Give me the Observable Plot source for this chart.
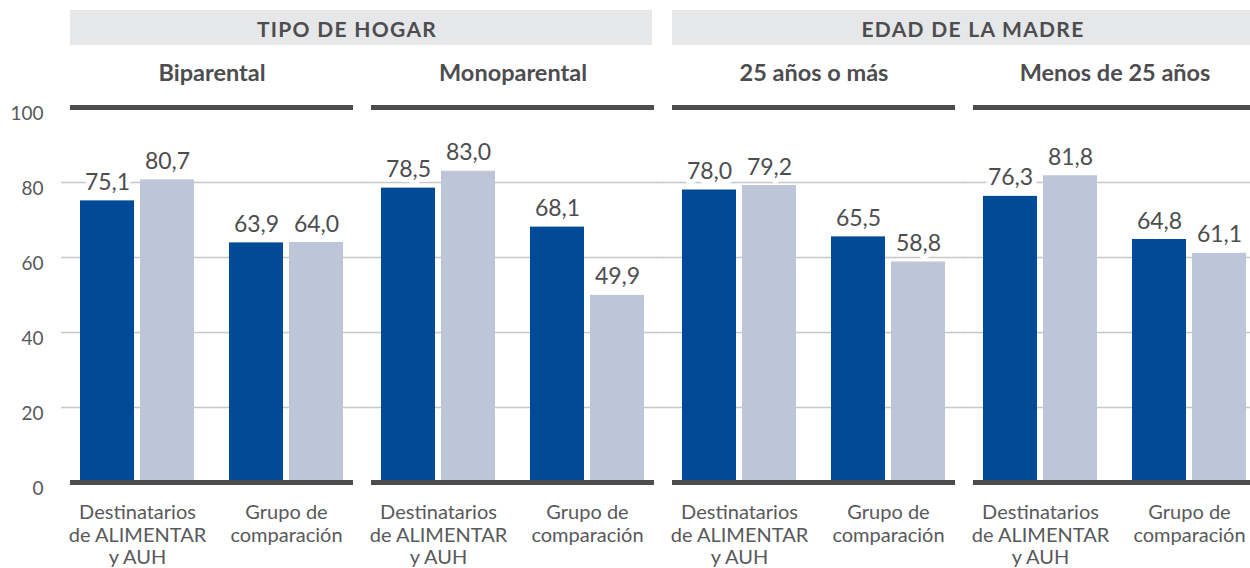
<!DOCTYPE html>
<html>
<head>
<meta charset="utf-8">
<script src="https://cdn.jsdelivr.net/npm/d3@7"></script>
<script src="https://cdn.jsdelivr.net/npm/@observablehq/plot@0.6"></script>
<style>
  html, body { margin: 0; padding: 0; background: #fff; overflow: hidden; }
  body { width: 1250px; height: 568px; font-family: Lato, "Noto Sans", sans-serif; }
  .headers { position: relative; height: 45px; }
  .hbox { position: absolute; top: 10px; height: 35px; background: #e6e7e8; color: #4d4d4f;
          font-weight: 700; font-size: 21px; letter-spacing: 1.3px; display: flex;
          align-items: center; justify-content: center; box-sizing: border-box; }
  #chart svg { display: block; overflow: visible; }
</style>
</head>
<body>
<div class="headers" id="headers"></div>
<div id="chart"></div>
<script>
// ---- data ----
const sections = ["TIPO DE HOGAR", "EDAD DE LA MADRE"];
const panels = ["Biparental", "Monoparental", "25 años o más", "Menos de 25 años"];
const groups = ["Destinatarios\nde ALIMENTAR\ny AUH", "Grupo de\ncomparación"];
const series = ["Serie 1", "Serie 2"];
const serie1 = [75.1, 63.9, 78.5, 68.1, 78.0, 65.5, 76.3, 64.8];
const serie2 = [80.7, 64.0, 83.0, 49.9, 79.2, 58.8, 81.8, 61.1];
const yTicks = [0, 20, 40, 60, 80, 100];
const gridValues = [20, 40, 60, 80];
const frameValues = [0, 100];

const rows = [];
panels.forEach((p, i) => groups.forEach((g, j) => {
  rows.push({panel: p, group: g, serie: series[0], value: serie1[i * 2 + j]});
  rows.push({panel: p, group: g, serie: series[1], value: serie2[i * 2 + j]});
}));
const groupRows = panels.flatMap(p => groups.map(g => ({panel: p, group: g})));

// ---- section headers (above the svg) ----
const hdr = document.getElementById("headers");
[{left: 70, w: 582, pad: "2px 28px 0 0"}, {left: 672, w: 590, pad: "2px 0 0 12px"}].forEach((b, i) => {
  const d = document.createElement("div");
  d.className = "hbox";
  d.style.left = b.left + "px";
  d.style.width = b.w + "px";
  d.style.padding = b.pad;
  d.textContent = sections[i];
  hdr.appendChild(d);
});

const dark = "#004a98", light = "#bdc6d8", ink = "#4d4d4f";
const fmt = v => v.toFixed(1).replace(".", ",");
const s1 = rows.filter(d => d.serie === series[0]);
const s2 = rows.filter(d => d.serie === series[1]);

const chart = Plot.plot({
  width: 1250,
  height: 523,
  marginLeft: 70,
  marginRight: -6,
  marginTop: 62,
  marginBottom: 86,
  style: {fontFamily: "Lato, 'Noto Sans', sans-serif", background: "transparent"},
  fx: {domain: panels, paddingInner: 0.06, paddingOuter: 0, axis: null},
  x: {domain: groups, paddingInner: 0.2333, paddingOuter: 0.06, axis: null},
  y: {domain: [0, 100], axis: null},
  marks: [
    Plot.ruleY(gridValues, {stroke: "#c6c7c9", strokeWidth: 1.4, insetLeft: -9, insetRight: -10}),
    Plot.axisY({ticks: yTicks, tickSize: 0, tickPadding: 27, fontSize: 19, fill: "#58595b", dy: 6, label: null}),
    Plot.barY(s1, {fx: "panel", x: "group", y: "value", fill: dark, insetRight: 60}),
    Plot.barY(s2, {fx: "panel", x: "group", y: "value", fill: light, insetLeft: 60}),
    Plot.ruleY(frameValues, {stroke: ink, strokeWidth: 5}),
    Plot.text(s1, {fx: "panel", x: "group", y: "value", text: d => fmt(d.value), dx: -30, dy: -11,
      lineAnchor: "bottom", fontSize: 23, fill: ink, stroke: "white", strokeWidth: 10, paintOrder: "stroke"}),
    Plot.text(s2, {fx: "panel", x: "group", y: "value", text: d => fmt(d.value), dx: 30, dy: -11,
      lineAnchor: "bottom", fontSize: 23, fill: ink, stroke: "white", strokeWidth: 10, paintOrder: "stroke"}),
    Plot.text(panels, {fx: d => d, text: d => d, frameAnchor: "top", lineAnchor: "bottom", dy: -27,
      fontSize: 23.5, fontWeight: 700, fill: ink}),
    Plot.text(groupRows, {fx: "panel", x: "group", text: "group", frameAnchor: "bottom", lineAnchor: "top",
      dy: 21, fontSize: 20, lineHeight: 1.12, fill: "#58595b"})
  ]
});
document.getElementById("chart").appendChild(chart);
</script>
</body>
</html>
